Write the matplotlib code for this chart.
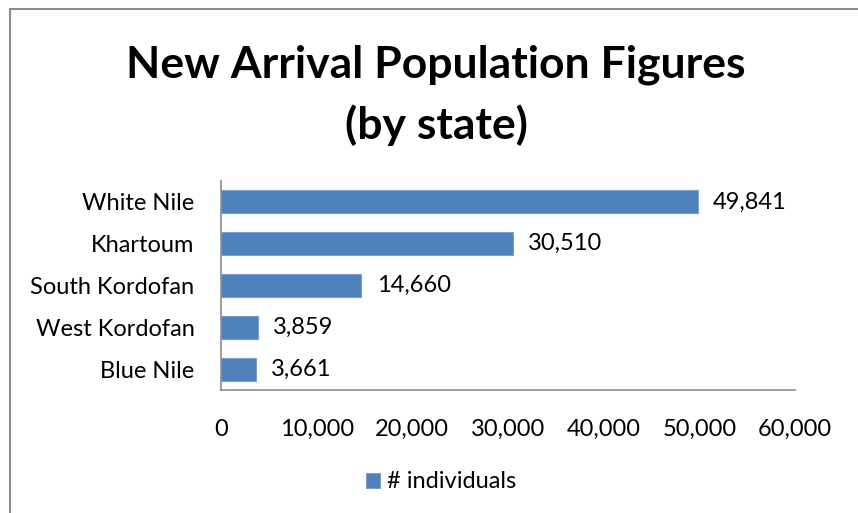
import matplotlib
matplotlib.use("Agg")
import matplotlib.pyplot as plt
from matplotlib.patches import Rectangle
from matplotlib.ticker import FuncFormatter

states = ["White Nile", "Khartoum", "South Kordofan", "West Kordofan", "Blue Nile"]
individuals = [49841, 30510, 14660, 3859, 3661]
xticks = [0, 10000, 20000, 30000, 40000, 50000, 60000]
title_lines = ["New Arrival Population Figures", "(by state)"]
series_name = "# individuals"

FONT = ["Lato", "DejaVu Sans"]
plt.rcParams["font.family"] = FONT

W, H = 858, 513
fig = plt.figure(figsize=(W / 100, H / 100), dpi=100)

# outer chart border
fig.patches.append(Rectangle((10 / W, -0.1), 1.2, 1 - 9 / H + 0.1, transform=fig.transFigure,
                             fill=False, edgecolor="#8c8c8c", linewidth=1.5))

ax = fig.add_axes([221 / W, 1 - 390 / H, (795 - 221) / W, (390 - 181) / H])
ypos = list(range(len(states)))[::-1]
bars = ax.barh(ypos, individuals, height=0.55, color="#4F81BD", edgecolor="#7BA0CD",
               linewidth=0.8, label=series_name)
ax.set_xlim(0, 60000)
ax.set_ylim(-0.5, len(states) - 0.5)
ax.set_yticks(ypos)
ax.set_yticklabels(states, fontsize=17)
ax.set_xticks(xticks)
ax.xaxis.set_major_formatter(FuncFormatter(lambda v, p: f"{int(v):,}"))
ax.tick_params(axis="x", labelsize=17, length=0, pad=21)
ax.tick_params(axis="y", length=0, pad=19)
for s in ["top", "right"]:
    ax.spines[s].set_visible(False)
for s in ["left", "bottom"]:
    ax.spines[s].set_color("#8c8c8c")
    ax.spines[s].set_linewidth(1.2)

for y, v in zip(ypos, individuals):
    ax.annotate(f"{v:,}", xy=(v, y), xytext=(11, 0), textcoords="offset points",
                va="center", ha="left", fontsize=17)

fig.text(436 / W, 1 - 65 / H, title_lines[0], ha="center", va="center", fontsize=32,
         fontweight="bold")
fig.text(436 / W, 1 - 125 / H, title_lines[1], ha="center", va="center", fontsize=32,
         fontweight="bold")

leg = fig.legend(handles=[bars], labels=[series_name], loc="center",
                 bbox_to_anchor=(441 / W, 1 - 482 / H), frameon=False, fontsize=17,
                 handlelength=0.6, handleheight=0.6, handletextpad=0.3)

fig.savefig("out.png", dpi=100)
